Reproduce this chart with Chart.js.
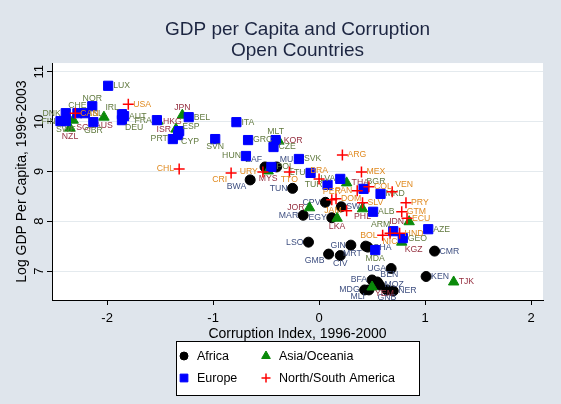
<!DOCTYPE html>
<html>
<head>
<meta charset="utf-8">
<script src="https://cdn.jsdelivr.net/npm/chart.js@4.4.1/dist/chart.umd.min.js"></script>
<style>
  html, body { margin: 0; padding: 0; background: #dfe5ec; }
  #wrap { width: 561px; height: 404px; }
</style>
</head>
<body>
<div id="wrap"><canvas id="gdpChart" width="561" height="404"></canvas></div>
<script>
// values
const xTicks = [-2, -1, 0, 1, 2];
const yTicks = [7, 8, 9, 10, 11];

const africaCodes = ['ZAF', 'MUS', 'BWA', 'TUN', 'CPV', 'MAR', 'EGY', 'SWZ', 'LSO', 'GMB', 'CIV', 'GIN', 'MRT', 'GHA', 'CMR', 'UGA', 'BFA', 'BEN', 'MOZ', 'MDG', 'MLI', 'NER', 'GNB', 'KEN'];
const africaCorruption = [-0.51, -0.40, -0.65, -0.25, 0.06, -0.15, 0.12, 0.21, -0.10, 0.09, 0.20, 0.30, 0.44, 0.46, 1.09, 0.68, 0.50, 0.55, 0.57, 0.43, 0.47, 0.70, 0.64, 1.01];
const africaLogGdp = [9.09, 9.09, 8.83, 8.66, 8.38, 8.12, 8.07, 8.29, 7.58, 7.34, 7.31, 7.52, 7.50, 7.48, 7.40, 7.05, 6.82, 6.78, 6.72, 6.62, 6.62, 6.60, 6.62, 6.89];

const asiaCodes = ['NZL', 'SGP', 'AUS', 'HKG', 'JPN', 'ISR', 'KOR', 'MYS', 'THA', 'JOR', 'LKA', 'PHL', 'IDN', 'KGZ', 'YEM', 'TJK'];
const asiaCorruption = [-2.35, -2.32, -2.03, -1.52, -1.29, -1.35, -0.38, -0.48, 0.26, -0.09, 0.17, 0.41, 0.85, 0.78, 0.50, 1.27];
const asiaLogGdp = [9.87, 10.03, 10.09, 10.01, 10.13, 9.85, 9.61, 9.01, 8.77, 8.27, 8.06, 8.25, 7.99, 7.58, 6.68, 6.78];

const europeCodes = ['LUX', 'DNK', 'FIN', 'SWE', 'CHE', 'NOR', 'ISL', 'GBR', 'IRL', 'AUT', 'DEU', 'FRA', 'BEL', 'ESP', 'CYP', 'PRT', 'ITA', 'SVN', 'GRC', 'MLT', 'CZE', 'HUN', 'SVK', 'POL', 'LTU', 'LVA', 'TUR', 'BGR', 'MKD', 'ALB', 'ARM', 'AZE', 'GEO', 'MDA'];
const europeCorruption = [-1.99, -2.39, -2.44, -2.39, -2.28, -2.14, -2.21, -2.13, -1.86, -1.84, -1.86, -1.53, -1.23, -1.32, -1.33, -1.38, -0.78, -0.98, -0.67, -0.41, -0.43, -0.69, -0.19, -0.45, -0.08, 0.20, 0.08, 0.42, 0.58, 0.51, 0.70, 1.03, 0.79, 0.53];
const europeLogGdp = [10.72, 10.17, 10.01, 10.01, 10.17, 10.31, 10.17, 9.99, 10.15, 10.11, 10.03, 10.03, 10.09, 9.81, 9.73, 9.65, 9.99, 9.65, 9.63, 9.63, 9.49, 9.31, 9.25, 9.09, 8.97, 8.85, 8.73, 8.65, 8.55, 8.19, 7.80, 7.84, 7.66, 7.42];

const americaCodes = ['USA', 'CAN', 'CHL', 'CRI', 'URY', 'TTO', 'ARG', 'MEX', 'BRA', 'PAN', 'COL', 'VEN', 'PER', 'DOM', 'SLV', 'JAM', 'PRY', 'GTM', 'ECU', 'HND', 'BOL', 'NIC'];
const americaCorruption = [-1.80, -2.30, -1.32, -0.83, -0.53, -0.28, 0.22, 0.40, 0.00, 0.36, 0.47, 0.69, 0.12, 0.16, 0.41, 0.26, 0.82, 0.78, 0.83, 0.76, 0.60, 0.67];
const americaLogGdp = [10.35, 10.17, 9.05, 8.97, 8.99, 8.99, 9.33, 8.99, 8.85, 8.61, 8.69, 8.59, 8.43, 8.45, 8.37, 8.21, 8.37, 8.19, 8.06, 7.76, 7.72, 7.76];

// marker label position, clock style (default 3 o'clock)
const labelClock = {
  ZAF: 11, MUS: 1, BWA: 7, TUN: 9, CPV: 9, MAR: 9, EGY: 9, LSO: 9, GMB: 7, CIV: 6, GIN: 9, MRT: 7,
  UGA: 9, BFA: 9, BEN: 1, MDG: 9, MLI: 7, GNB: 6,
  NZL: 6, SGP: 4, AUS: 6, JPN: 12, ISR: 9, MYS: 6, JOR: 9, LKA: 6, PHL: 6, IDN: 9, KGZ: 4, YEM: 4,
  DNK: 9, FIN: 9, SWE: 6, CHE: 12, NOR: 12, GBR: 6, IRL: 11, DEU: 4, FRA: 9, ESP: 2, CYP: 4, PRT: 9,
  SVN: 6, MLT: 12, HUN: 9, LTU: 9, LVA: 9, TUR: 9, BGR: 1, ARM: 11, MDA: 6,
  CHL: 9, CRI: 7, URY: 9, TTO: 6, BRA: 12, PAN: 9, VEN: 1, PER: 12, JAM: 9, BOL: 9, NIC: 6
};

const clockOffsets = {
  3: [5, 0, 'left'], 9: [-5, 0, 'right'], 12: [0, -8, 'center'], 6: [0, 8, 'center'],
  1: [3, -7, 'left'], 2: [3, -5, 'left'], 4: [3, 7, 'left'], 5: [3, 8, 'left'],
  7: [-4, 7, 'right'], 8: [-4, 5, 'right'], 10: [-4, -5, 'right'], 11: [-3, -7, 'right']
};

const FONT = '"Liberation Sans", Arial, Helvetica, sans-serif';

const toPoints = (xs, ys) => xs.map((x, i) => ({ x, y: ys[i] }));

const plotBackground = {
  id: 'plotBackground',
  beforeDraw(chart) {
    const { ctx, chartArea: a } = chart;
    ctx.save();
    ctx.fillStyle = '#ffffff';
    ctx.fillRect(a.left, a.top, a.right - a.left, a.bottom - a.top);
    ctx.restore();
  }
};

const countryLabels = {
  id: 'countryLabels',
  afterDatasetDraw(chart, args) {
    const ds = chart.data.datasets[args.index];
    const ctx = chart.ctx;
    ctx.save();
    ctx.font = `8.7px ${FONT}`;
    ctx.fillStyle = ds.labelColor;
    ctx.textBaseline = 'middle';
    args.meta.data.forEach((pt, i) => {
      const code = ds.codes[i];
      const [dx, dy, align] = clockOffsets[labelClock[code] || 3];
      ctx.textAlign = align;
      ctx.fillText(code, pt.x + dx, pt.y + dy);
    });
    ctx.restore();
  }
};

const boxLegend = {
  id: 'boxLegend',
  afterDraw(chart) {
    const { ctx, chartArea } = chart;
    const cx = (chartArea.left + chartArea.right) / 2;
    const w = 243, h = 54;
    const left = Math.round(cx - w / 2), top = 341;

    ctx.save();
    ctx.fillStyle = '#ffffff';
    ctx.fillRect(left, top, w, h);
    ctx.strokeStyle = '#000000';
    ctx.lineWidth = 1;
    ctx.strokeRect(left + 0.5, top + 0.5, w, h);

    ctx.font = `12.5px ${FONT}`;
    ctx.textBaseline = 'middle';
    ctx.textAlign = 'left';

    chart.data.datasets.forEach((ds, i) => {
      const col = i % 2;
      const row = Math.floor(i / 2);
      const mx = left + 8 + col * 82;
      const my = top + 15 + row * 22;

      ctx.fillStyle = ds.backgroundColor;
      ctx.strokeStyle = ds.borderColor;
      ctx.lineWidth = ds.borderWidth;
      Chart.helpers.drawPoint(ctx, {
        pointStyle: ds.pointStyle,
        radius: ds.legendRadius,
        borderWidth: ds.borderWidth,
        rotation: 0
      }, mx, my);

      ctx.fillStyle = '#000000';
      ctx.fillText(ds.label, mx + 13, my + 1);
    });
    ctx.restore();
  }
};

const datasets = [
  {
    label: 'Africa',
    codes: africaCodes,
    data: toPoints(africaCorruption, africaLogGdp),
    pointStyle: 'circle',
    pointRadius: 5,
    legendRadius: 4,
    backgroundColor: '#000000',
    borderColor: '#000000',
    borderWidth: 1,
    labelColor: '#3e4f80',
    order: 4
  },
  {
    label: 'Asia/Oceania',
    codes: asiaCodes,
    data: toPoints(asiaCorruption, asiaLogGdp),
    pointStyle: 'triangle',
    pointRadius: 6,
    legendRadius: 5,
    backgroundColor: '#0a8a0a',
    borderColor: '#0a8a0a',
    borderWidth: 1,
    labelColor: '#953040',
    order: 3
  },
  {
    label: 'Europe',
    codes: europeCodes,
    data: toPoints(europeCorruption, europeLogGdp),
    pointStyle: 'rect',
    pointRadius: 6.5,
    legendRadius: 5.5,
    backgroundColor: '#0000ff',
    borderColor: '#0000ff',
    borderWidth: 1,
    labelColor: '#627a40',
    order: 2
  },
  {
    label: 'North/South America',
    codes: americaCodes,
    data: toPoints(americaCorruption, americaLogGdp),
    pointStyle: 'cross',
    pointRadius: 5.5,
    legendRadius: 4.5,
    backgroundColor: '#ff0000',
    borderColor: '#ff0000',
    borderWidth: 1.5,
    labelColor: '#e08a20',
    order: 1
  }
];

new Chart(document.getElementById('gdpChart'), {
  type: 'scatter',
  data: { datasets },
  plugins: [plotBackground, countryLabels, boxLegend],
  options: {
    responsive: false,
    animation: false,
    layout: { padding: { left: 0, right: 18, top: 0, bottom: 59 } },
    elements: { point: { hoverRadius: 5 } },
    plugins: {
      legend: { display: false },
      tooltip: { enabled: false },
      title: {
        display: true,
        fullSize: false,
        text: ['GDP per Capita and Corruption', 'Open Countries'],
        color: '#1c2541',
        font: { family: FONT, size: 19, weight: 'normal', lineHeight: 1.08 },
        padding: { top: 20, bottom: 2 }
      }
    },
    scales: {
      x: {
        type: 'linear',
        min: -2.52,
        max: 2.113,
        afterBuildTicks: scale => { scale.ticks = xTicks.map(value => ({ value })); },
        afterFit: scale => { scale.height = 45; },
        ticks: { color: '#000000', font: { family: FONT, size: 13 }, padding: 6 },
        grid: { drawOnChartArea: false, tickLength: 5, tickColor: '#000000' },
        border: { color: '#000000', width: 1 },
        title: {
          display: true,
          text: 'Corruption Index, 1996-2000',
          color: '#000000',
          font: { family: FONT, size: 14 },
          padding: { top: 0, bottom: 2 }
        }
      },
      y: {
        type: 'linear',
        min: 6.418,
        max: 11.177,
        afterBuildTicks: scale => { scale.ticks = yTicks.map(value => ({ value })); },
        afterFit: scale => { scale.width = 52; },
        ticks: {
          color: '#000000',
          font: { family: FONT, size: 13 },
          minRotation: 90,
          maxRotation: 90,
          crossAlign: 'center',
          padding: 0
        },
        grid: { color: '#e4eaee', tickLength: 5, tickColor: '#000000' },
        border: { color: '#000000', width: 1 },
        title: {
          display: true,
          text: 'Log GDP Per Capita, 1996-2003',
          color: '#000000',
          font: { family: FONT, size: 14 },
          padding: { top: 14, bottom: 0 }
        }
      }
    }
  }
});
</script>
</body>
</html>
